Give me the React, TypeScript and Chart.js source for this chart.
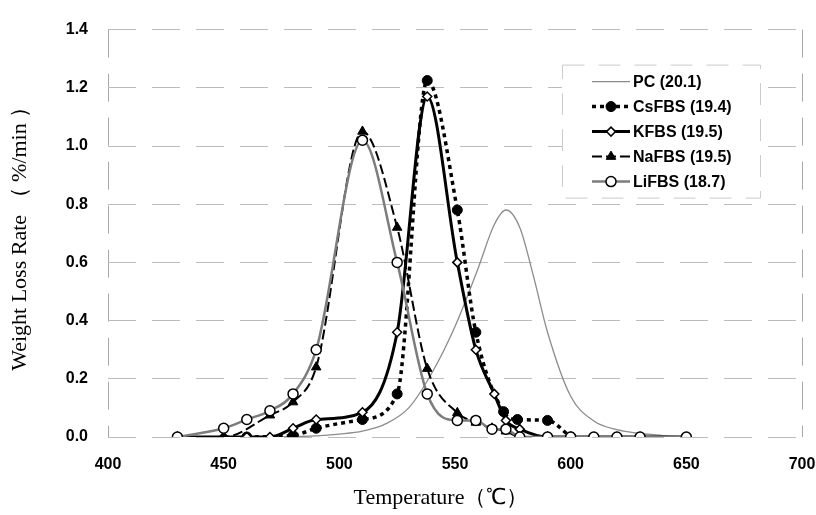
import React, { useEffect, useRef } from 'react';
import { Chart, registerables } from 'chart.js';
import { drawPoint } from 'chart.js/helpers';

Chart.register(...registerables);

// Temperature (°C) and weight loss rate (%/min)
const pcTemps = [430, 470, 490, 500, 510, 520, 530, 540, 550, 560, 567, 572, 578, 584, 590, 600, 610, 620, 630, 640, 650];
const pcRates = [0, 0, 0.004, 0.01, 0.02, 0.045, 0.1, 0.22, 0.38, 0.58, 0.73, 0.78, 0.72, 0.55, 0.36, 0.14, 0.055, 0.025, 0.012, 0.005, 0];

const csTemps = [460, 480, 490, 510, 525, 538, 551, 559, 571, 577, 590, 600];
const csRates = [0, 0.005, 0.03, 0.06, 0.148, 1.225, 0.78, 0.36, 0.087, 0.06, 0.057, 0];

const kTemps = [430, 450, 460, 470, 480, 490, 510, 525, 538, 551, 559, 567, 572, 578, 590, 600, 610, 620, 630, 650];
const kRates = [0, 0, 0, 0, 0.03, 0.06, 0.085, 0.36, 1.17, 0.6, 0.3, 0.148, 0.057, 0.027, 0, 0, 0, 0, 0, 0];

const naTemps = [430, 450, 470, 480, 490, 510, 525, 538, 551, 559, 566, 572, 578, 590];
const naRates = [0, 0, 0.075, 0.12, 0.24, 1.05, 0.72, 0.235, 0.083, 0.05, 0.03, 0.02, 0, 0];

const liTemps = [430, 450, 460, 470, 480, 490, 510, 525, 538, 551, 559, 566, 572, 578, 590, 600, 610, 620, 630, 650];
const liRates = [0, 0.03, 0.06, 0.09, 0.148, 0.3, 1.02, 0.6, 0.148, 0.057, 0.057, 0.027, 0.027, 0, 0, 0, 0, 0, 0, 0];

const seriesLabels = ['PC (20.1)', 'CsFBS (19.4)', 'KFBS (19.5)', 'NaFBS (19.5)', 'LiFBS (18.7)'];
const xTicks = [400, 450, 500, 550, 600, 650, 700];
const yTicks = [0, 0.2, 0.4, 0.6, 0.8, 1.0, 1.2, 1.4];
const xTitle = 'Temperature（℃）';
const yTitle = 'Weight Loss Rate （ %/min ）';

const pts = (xs: number[], ys: number[]) => xs.map((x, i) => ({ x, y: ys[i] }));

const sans = '"Liberation Sans", Arial, sans-serif';
const serif = '"Liberation Serif", "Times New Roman", serif';

const boxLegend = {
  id: 'boxLegend',
  afterDraw(chart: any) {
    const ctx = chart.ctx as CanvasRenderingContext2D;
    const area = chart.chartArea;
    const bx = area.right - 240;
    const by = area.top + 35;
    const bw = 198;
    const bh = 133;
    ctx.save();
    ctx.fillStyle = '#ffffff';
    ctx.fillRect(bx, by, bw, bh);
    ctx.strokeStyle = '#cccccc';
    ctx.lineWidth = 1;
    ctx.setLineDash([22, 14]);
    ctx.strokeRect(bx + 0.5, by + 0.5, bw, bh);
    chart.data.datasets.forEach((ds: any, i: number) => {
      const y = by + 17 + i * 25;
      const x0 = bx + 30;
      const x1 = bx + 68;
      ctx.setLineDash(ds.borderDash || []);
      ctx.strokeStyle = ds.borderColor;
      ctx.lineWidth = ds.borderWidth;
      ctx.beginPath();
      ctx.moveTo(x0, y);
      ctx.lineTo(x1, y);
      ctx.stroke();
      ctx.setLineDash([]);
      if (ds.pointRadius > 0) {
        ctx.fillStyle = ds.pointBackgroundColor;
        ctx.strokeStyle = ds.pointBorderColor;
        ctx.lineWidth = ds.pointBorderWidth;
        drawPoint(ctx, { pointStyle: ds.pointStyle, radius: ds.pointRadius, borderWidth: ds.pointBorderWidth, rotation: 0 } as any, (x0 + x1) / 2, y);
      }
      ctx.fillStyle = '#000';
      ctx.font = `bold 16px ${sans}`;
      ctx.textAlign = 'left';
      ctx.textBaseline = 'middle';
      ctx.fillText(ds.label, x1 + 3, y + 1);
    });
    // x-axis title, centred where the reference places it
    ctx.font = `22px ${serif}`;
    ctx.textAlign = 'center';
    ctx.textBaseline = 'middle';
    ctx.fillStyle = '#000';
    ctx.fillText(xTitle, (area.left + area.right) / 2 - 14, chart.height - 17);
    ctx.restore();
  },
};

export default function App() {
  const ref = useRef<HTMLCanvasElement>(null);

  useEffect(() => {
    if (!ref.current) return;
    const chart = new Chart(ref.current, {
      type: 'line',
      data: {
        datasets: [
          {
            label: seriesLabels[0],
            data: pts(pcTemps, pcRates),
            borderColor: '#8c8c8c',
            borderWidth: 1.3,
            pointRadius: 0,
            cubicInterpolationMode: 'monotone',
            order: 5,
          },
          {
            label: seriesLabels[1],
            data: pts(csTemps, csRates),
            borderColor: '#000',
            borderWidth: 3.5,
            borderDash: [4, 4],
            pointStyle: 'circle',
            pointRadius: 5,
            pointBackgroundColor: '#000',
            pointBorderColor: '#000',
            pointBorderWidth: 1,
            cubicInterpolationMode: 'monotone',
            order: 4,
          },
          {
            label: seriesLabels[2],
            data: pts(kTemps, kRates),
            borderColor: '#000',
            borderWidth: 3,
            pointStyle: 'rectRot',
            pointRadius: 4.5,
            pointBackgroundColor: '#fff',
            pointBorderColor: '#000',
            pointBorderWidth: 1.5,
            cubicInterpolationMode: 'monotone',
            order: 3,
          },
          {
            label: seriesLabels[3],
            data: pts(naTemps, naRates),
            borderColor: '#000',
            borderWidth: 2,
            borderDash: [10, 4],
            pointStyle: 'triangle',
            pointRadius: 5.5,
            pointBackgroundColor: '#000',
            pointBorderColor: '#000',
            pointBorderWidth: 1,
            cubicInterpolationMode: 'monotone',
            order: 2,
          },
          {
            label: seriesLabels[4],
            data: pts(liTemps, liRates),
            borderColor: '#7c7c7c',
            borderWidth: 2.5,
            pointStyle: 'circle',
            pointRadius: 5,
            pointBackgroundColor: '#fff',
            pointBorderColor: '#000',
            pointBorderWidth: 1.5,
            cubicInterpolationMode: 'monotone',
            order: 1,
          },
        ] as any,
      },
      options: {
        responsive: false,
        animation: false,
        devicePixelRatio: 1,
        layout: { padding: { top: 20, right: 0, left: 0, bottom: 0 } },
        plugins: { legend: { display: false }, tooltip: { enabled: false } },
        scales: {
          x: {
            type: 'linear',
            min: 400,
            max: 700,
            afterFit: (s: any) => {
              s.height = 78;
              s.paddingLeft = 0;
              s.paddingRight = 14;
            },
            afterBuildTicks: (s: any) => { s.ticks = xTicks.map((v) => ({ value: v })); },
            ticks: { font: { family: sans, size: 16, weight: 'bold' }, color: '#000', padding: 18, maxRotation: 0 },
            grid: {
              drawTicks: false,
              color: (c: any) => (c.tick && (c.tick.value === 400 || c.tick.value === 700) ? '#a8a8a8' : 'rgba(0,0,0,0)'),
            },
            border: { display: false, dash: [28, 16] },
            title: { display: false, text: xTitle },
          },
          y: {
            type: 'linear',
            min: 0,
            max: 1.4,
            afterFit: (s: any) => { s.width = 108; },
            afterBuildTicks: (s: any) => { s.ticks = yTicks.map((v) => ({ value: v })); },
            ticks: {
              font: { family: sans, size: 16, weight: 'bold' },
              color: '#000',
              padding: 20,
              callback: (v: any) => Number(v).toFixed(1),
            },
            grid: { drawTicks: false, color: '#bcbcbc' },
            border: { display: false, dash: [28, 16] },
            title: {
              display: true,
              text: yTitle,
              font: { family: serif, size: 22 },
              color: '#000',
              padding: { top: 7, bottom: 0 },
            },
          },
        },
      } as any,
      plugins: [boxLegend],
    });
    return () => chart.destroy();
  }, []);

  return (
    <div style={{ position: 'fixed', left: 0, top: 0, width: 816, height: 515, background: '#fff' }}>
      <canvas ref={ref} width={816} height={515} style={{ display: 'block' }} />
    </div>
  );
}
